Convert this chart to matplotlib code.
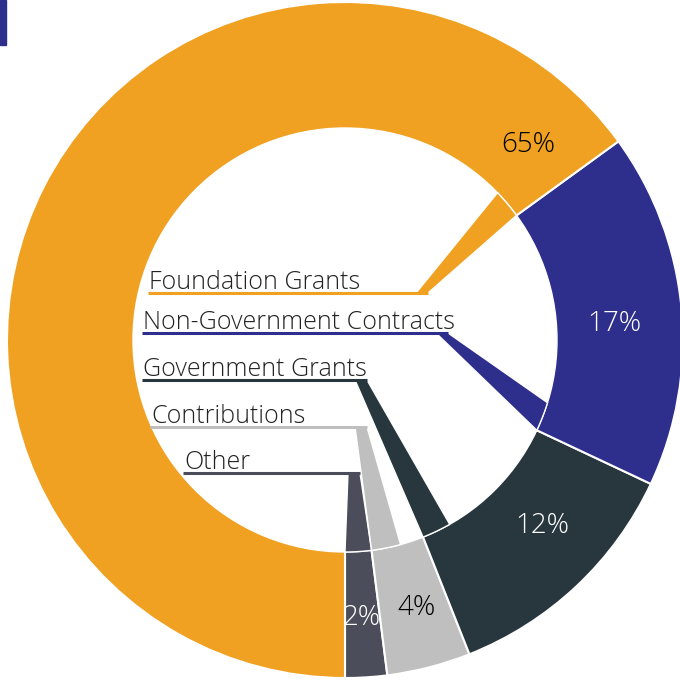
import numpy as np
import matplotlib.pyplot as plt
from matplotlib.patches import Circle, Polygon, Rectangle

categories = ['Other', 'Contributions', 'Government Grants',
              'Non-Government Contracts', 'Foundation Grants']
shares = [2, 4, 12, 17, 65]
colors = ['#4b4d5a', '#bfbfbf', '#28373e', '#2e2f8c', '#f0a121']
pct_colors = ['white', 'black', 'white', 'white', 'black']

# label rows inside the hole, pixel positions from the top of the image
label_x0 = [183, 150, 142, 142, 148]
label_y = [473, 427, 380, 333, 293]
label_x1 = [360, 367, 367, 448, 428]
# where the percentage text sits (degrees, radius in px)
pct_angle = [-86.5, -74.9, -42.9, 3.8, 47.1]
pct_r = [277, 276, 270, 270, 269]

W, H = 680, 683
cx, cy = 345, 343
R, r_in = 338, 212
font = ['Open Sans', 'DejaVu Sans']


def hull(points):
    pts = sorted(map(tuple, points))
    def cross(o, a, b):
        return (a[0] - o[0]) * (b[1] - o[1]) - (a[1] - o[1]) * (b[0] - o[0])
    lower, upper = [], []
    for p in pts:
        while len(lower) >= 2 and cross(lower[-2], lower[-1], p) <= 0:
            lower.pop()
        lower.append(p)
    for p in reversed(pts):
        while len(upper) >= 2 and cross(upper[-2], upper[-1], p) <= 0:
            upper.pop()
        upper.append(p)
    return np.array(lower[:-1] + upper[:-1])


fig = plt.figure(figsize=(6.8, 6.83), dpi=100)
ax = fig.add_axes([0, 0, 1, 1])
wedges, _ = ax.pie(shares, colors=colors, startangle=-90, counterclock=True,
                   radius=R, center=(cx, cy),
                   wedgeprops=dict(edgecolor='white', linewidth=1.5))
ax.add_patch(Circle((cx, cy), r_in, color='white', zorder=2))

# callout from each slice's inner edge to its underlined label
for w, c, name, x0, yl, x1 in zip(wedges, colors, categories, label_x0, label_y, label_x1):
    a1 = w.theta1
    a2 = min(w.theta2, a1 + 8)
    ang = np.radians(np.linspace(a1, a2, 12))
    ys = H - yl
    pts = [(x1 - 12, ys), (x1, ys)] + [(cx + r_in * np.cos(a), cy + r_in * np.sin(a)) for a in ang]
    ax.add_patch(Polygon(hull(pts), closed=True, facecolor=c, edgecolor='white',
                         linewidth=1.0, zorder=3))
    ax.plot([x0, x1], [ys, ys], color=c, lw=2.2, zorder=4, solid_capstyle='butt')
    ax.text(x0 + 1, ys + 4, name, fontsize=18, family=font, fontweight='light',
            color='#222222', ha='left', va='baseline', zorder=5)

# percentage labels
for s, pc, a, rr in zip(shares, pct_colors, pct_angle, pct_r):
    ax.text(cx + rr * np.cos(np.radians(a)), cy + rr * np.sin(np.radians(a)) - 2,
            f'{s}%', fontsize=20, family=font, fontweight='light', color=pc,
            ha='center', va='center', zorder=5)

ax.add_patch(Rectangle((0, H - 45), 6, 45, color='#2e2f8c', zorder=6))

ax.set_xlim(0, W)
ax.set_ylim(0, H)
ax.set_aspect('auto')
ax.axis('off')
fig.savefig('out.png', dpi=100)
